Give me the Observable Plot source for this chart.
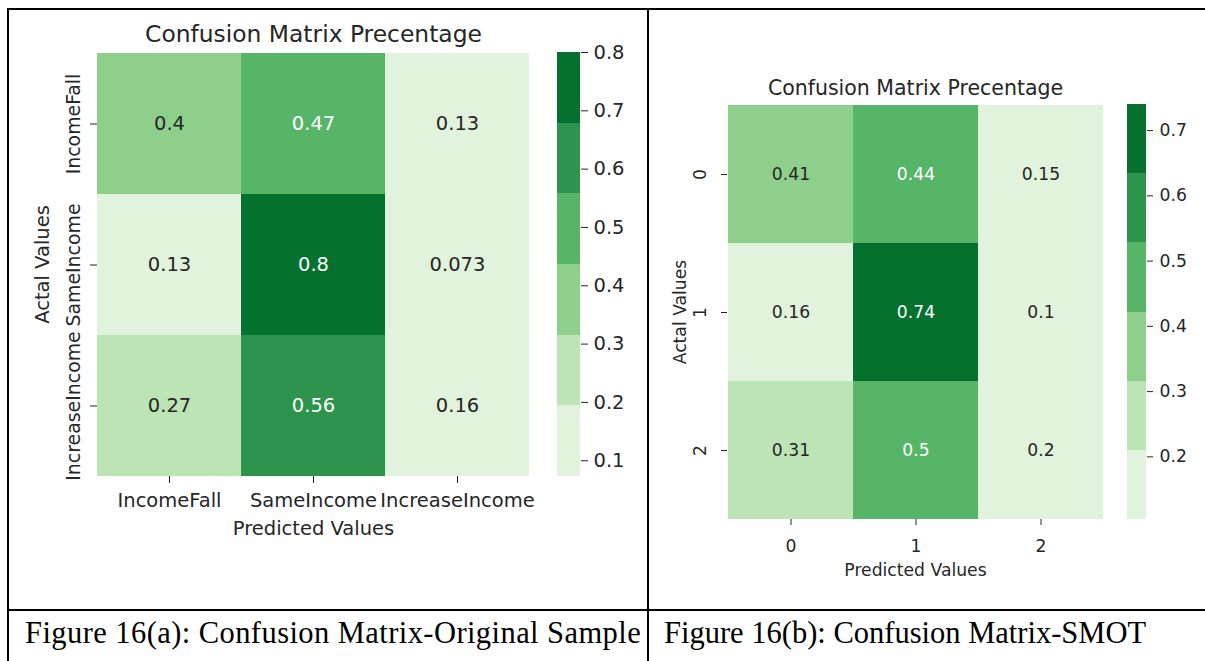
<!DOCTYPE html>
<html><head><meta charset="utf-8">
<script src="https://cdn.jsdelivr.net/npm/d3@7"></script>
<script src="https://cdn.jsdelivr.net/npm/@observablehq/plot@0.6"></script>
<style>
html,body{margin:0;padding:0;background:#fff;}
#page{position:relative;width:1205px;height:661px;overflow:hidden;background:#fff;}
.line{position:absolute;background:#000;}
.cap{position:absolute;font-family:"Liberation Serif",serif;font-size:30.5px;color:#000;white-space:nowrap;line-height:1;}
</style></head><body><div id="page"></div>
<script>
// ---- data ----
const titleText = "Confusion Matrix Precentage";
const xLabelText = "Predicted Values";
const yLabelText = "Actal Values";

const labelsA = ["IncomeFall", "SameIncome", "IncreaseIncome"];
const valuesA = [
  [0.40, 0.47, 0.13],
  [0.13, 0.80, 0.073],
  [0.27, 0.56, 0.16]
];
const cbTicksA = [0.1, 0.2, 0.3, 0.4, 0.5, 0.6, 0.7, 0.8];

const labelsB = ["0", "1", "2"];
const valuesB = [
  [0.41, 0.44, 0.15],
  [0.16, 0.74, 0.104],
  [0.31, 0.50, 0.20]
];
const cbTicksB = [0.2, 0.3, 0.4, 0.5, 0.6, 0.7];

const captionA = "Figure 16(a): Confusion Matrix-Original Sample";
const captionB = "Figure 16(b): Confusion Matrix-SMOT";

const palette = ["#e1f3dc", "#bce4b5", "#8ed08b", "#56b567", "#2c944c", "#05712f"];

// ---- helpers ----
const page = document.getElementById("page");
const fmt = d3.format(".2~g");
function lum(c) {
  const {r, g, b} = d3.rgb(c);
  const f = v => { v /= 255; return v <= 0.03928 ? v / 12.92 : Math.pow((v + 0.055) / 1.055, 2.4); };
  return 0.2126 * f(r) + 0.7152 * f(g) + 0.0722 * f(b);
}
function place(el, left, top) {
  el.style.position = "absolute";
  el.style.left = left + "px";
  el.style.top = top + "px";
  page.appendChild(el);
}

function panel(cfg) {
  const {labels, values, ticks} = cfg;
  const cells = [];
  values.forEach((row, i) => row.forEach((v, j) => cells.push({act: labels[i], pred: labels[j], value: v})));
  const vmin = d3.min(cells, d => d.value), vmax = d3.max(cells, d => d.value);
  const n = palette.length, w = (vmax - vmin) / n;
  const thresholds = d3.range(1, n).map(i => vmin + i * w);
  const cscale = d3.scaleThreshold(thresholds, palette);
  const colorOpt = {type: "threshold", domain: thresholds, range: palette};
  const style = {fontFamily: "DejaVu Sans", fontSize: cfg.fs + "px", color: "#262626", background: "transparent", overflow: "visible"};

  const heat = Plot.plot({
    width: cfg.W, height: cfg.H,
    marginTop: cfg.mt, marginBottom: cfg.H - cfg.fb, marginLeft: cfg.fl - cfg.left, marginRight: cfg.left + cfg.W - cfg.fr,
    style,
    x: {type: "band", domain: labels, padding: 0, label: null},
    y: {type: "band", domain: labels, padding: 0, label: null},
    color: colorOpt,
    marks: [
      Plot.cell(cells, {x: "pred", y: "act", fill: "value", inset: 0, shapeRendering: "crispEdges"}),
      Plot.text(cells, {x: "pred", y: "act", text: d => fmt(d.value), fontSize: cfg.fs,
        fill: d => lum(cscale(d.value)) > 0.408 ? "#262626" : "#ffffff"}),
      Plot.axisX({tickSize: cfg.tick, tickPadding: cfg.xpad, label: null, stroke: "#262626", fill: "#262626"}),
      Plot.axisY({tickRotate: -90, tickSize: cfg.tick, tickPadding: cfg.ypad, fontSize: cfg.yfs, label: null, stroke: "#262626", fill: "#262626"}),
      Plot.text([titleText], {text: d => d, frameAnchor: "top", lineAnchor: "middle", textAnchor: "middle", dy: cfg.titleDy, fontSize: cfg.tfs, fill: "#262626"}),
      Plot.text([xLabelText], {text: d => d, frameAnchor: "bottom", lineAnchor: "middle", textAnchor: "middle", dy: cfg.xlabDy, fill: "#262626"}),
      Plot.text([yLabelText], {text: d => d, frameAnchor: "left", lineAnchor: "middle", textAnchor: "middle", dx: cfg.ylabDx, rotate: -90, fill: "#262626"})
    ]
  });
  place(heat, cfg.left, 0);

  const bins = d3.range(n).map(i => ({lo: vmin + i * w, hi: vmin + (i + 1) * w}));
  const cbW = cfg.cbR - cfg.cbL;
  const cb = Plot.plot({
    width: cbW + 70, height: cfg.H,
    marginTop: cfg.mt, marginBottom: cfg.H - cfg.fb, marginLeft: 0, marginRight: 70,
    style,
    x: {domain: [0, 1], axis: null},
    y: {domain: [vmin, vmax], label: null},
    color: colorOpt,
    marks: [
      Plot.rect(bins, {x1: 0, x2: 1, y1: "lo", y2: "hi", fill: d => (d.lo + d.hi) / 2, shapeRendering: "crispEdges"}),
      Plot.axisY({anchor: "right", ticks, tickFormat: ".1f", tickSize: cfg.cbTick, tickPadding: cfg.cbPad, label: null, stroke: "#262626", fill: "#262626"})
    ]
  });
  place(cb, cfg.cbL, 0);
}

panel({labels: labelsA, values: valuesA, ticks: cbTicksA,
  left: 10, W: 535, H: 600, mt: 52, fb: 476, fl: 97, fr: 529,
  fs: 19.5, yfs: 18.9, tfs: 23.4, tick: 7, xpad: 10, ypad: 11,
  titleDy: -18, xlabDy: 52, ylabDx: -55,
  cbL: 557, cbR: 580, cbTick: 7, cbPad: 6});

panel({labels: labelsB, values: valuesB, ticks: cbTicksB,
  left: 650, W: 470, H: 600, mt: 104, fb: 519, fl: 727, fr: 1103,
  fs: 17.2, yfs: 17.2, tfs: 20.5, tick: 6, xpad: 14, ypad: 16,
  titleDy: -16, xlabDy: 51, ylabDx: -47,
  cbL: 1127, cbR: 1146, cbTick: 6, cbPad: 7});

// table rules
[[7, 8, 2, 653], [7, 8, 1198, 2], [647, 8, 2, 653], [7, 609, 1198, 2]].forEach(([x, y, w, h]) => {
  const d = document.createElement("div");
  d.className = "line";
  d.style.left = x + "px"; d.style.top = y + "px"; d.style.width = w + "px"; d.style.height = h + "px";
  page.appendChild(d);
});
// captions
[[captionA, 25, 0.43], [captionB, 664, 0]].forEach(([t, x, ls]) => {
  const d = document.createElement("div");
  d.className = "cap";
  d.textContent = t;
  d.style.left = x + "px"; d.style.top = "618px"; d.style.letterSpacing = ls + "px";
  page.appendChild(d);
});
</script></body></html>
